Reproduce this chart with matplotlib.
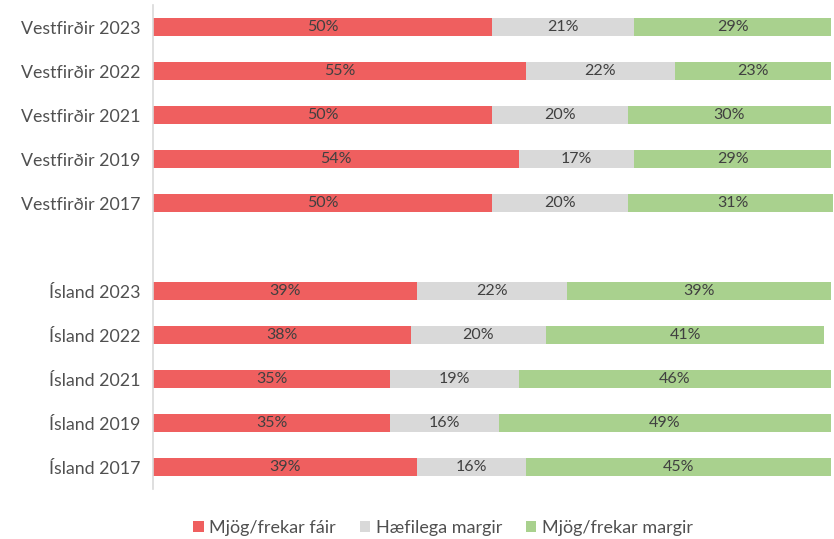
import numpy as np
import matplotlib
matplotlib.use('Agg')
import matplotlib.pyplot as plt

# rows top to bottom, '' is the spacer between the two groups
labels = ['Vestfirðir 2023', 'Vestfirðir 2022', 'Vestfirðir 2021', 'Vestfirðir 2019', 'Vestfirðir 2017', '',
          'Ísland 2023', 'Ísland 2022', 'Ísland 2021', 'Ísland 2019', 'Ísland 2017']
few = [50, 55, 50, 54, 50, None, 39, 38, 35, 35, 39]
moderate = [21, 22, 20, 17, 20, None, 22, 20, 19, 16, 16]
many = [29, 23, 30, 29, 31, None, 39, 41, 46, 49, 45]
series = ['Mjög/frekar fáir', 'Hæfilega margir', 'Mjög/frekar margir']
colors = ['#EF5F5F', '#D9D9D9', '#A9D18E']

plt.rcParams['font.family'] = ['Lato', 'DejaVu Sans']
fig = plt.figure(figsize=(8.34, 5.39), dpi=100)
ax = fig.add_axes([153/834, 50/539, 680/834, 484/539])

y = np.arange(len(labels))
left = np.zeros(len(labels))
for name, vals, c in zip(series, [few, moderate, many], colors):
    v = np.array([np.nan if x is None else x for x in vals], float)
    ax.barh(y, np.nan_to_num(v), left=left, height=0.39, color=c, label=name)
    for yi, (l, w) in enumerate(zip(left, v)):
        if np.isfinite(w):
            ax.text(l + w/2, yi, f'{int(w)}%', ha='center', va='center', fontsize=11.5, color='#404040')
    left = left + np.nan_to_num(v)

ax.set_xlim(0, 100.3)
ax.set_ylim(10.5, -0.5)
ax.set_yticks(y)
ax.set_yticklabels(labels, fontsize=12.8, color='#505050')
ax.tick_params(axis='y', length=0, pad=9)
ax.set_xticks([])
for s in ['top', 'right', 'bottom']:
    ax.spines[s].set_visible(False)
ax.spines['left'].set_color('#D9D9D9')
ax.spines['left'].set_linewidth(1.2)

leg = fig.legend(loc='center', bbox_to_anchor=(443/834, 1 - 528/539), ncol=3, frameon=False,
                 fontsize=13, handlelength=0.6, handleheight=0.6, handletextpad=0.3, columnspacing=1.3)
for t in leg.get_texts():
    t.set_color('#505050')

fig.savefig('out.png', dpi=100)
